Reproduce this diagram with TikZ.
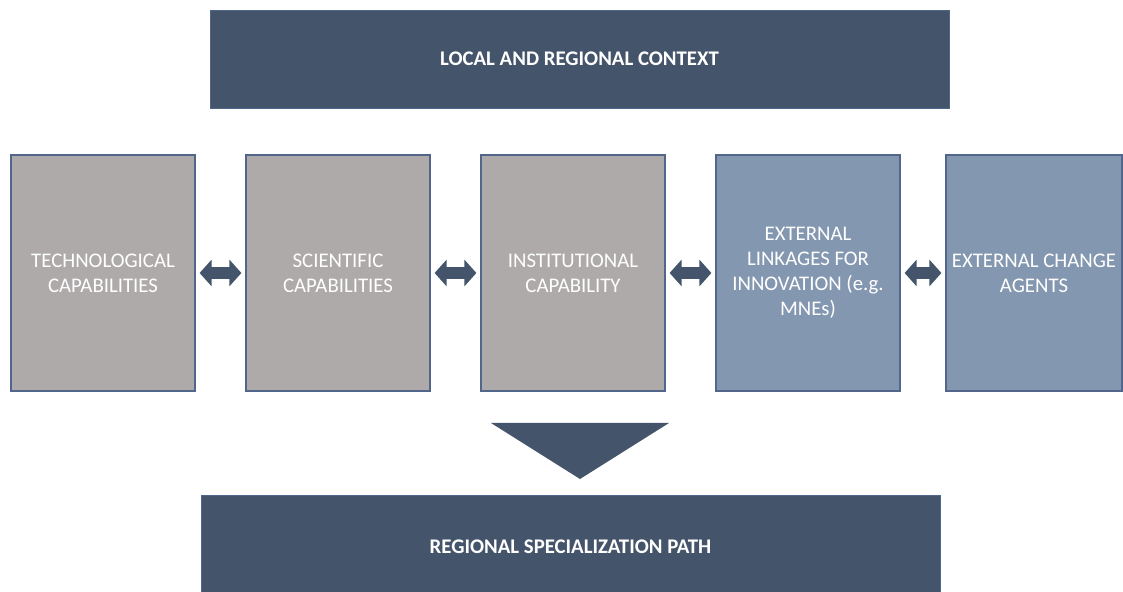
\documentclass[tikz,border=0pt]{standalone}
\usepackage{fontspec}
\setmainfont{Carlito}
\usetikzlibrary{arrows.meta, positioning}

\definecolor{slate}{HTML}{44546A}
\definecolor{capgray}{HTML}{AEAAAA}
\definecolor{extblue}{HTML}{8497B0}
\definecolor{boxedge}{HTML}{52658A}

\begin{document}
\begin{tikzpicture}
   [
      x=0.5pt, y=-0.5pt,
      % Style for the wide dark banners (context and path)
      banner/.style={rectangle, fill=slate, draw=boxedge, line width=0.4pt, minimum width=369.5pt, minimum height=49pt, font=\bfseries\fontsize{10.4}{12.5}\selectfont, text=white},
      % Style for the tall capability boxes
      cap box/.style={rectangle, draw=boxedge, line width=0.6pt, inner sep=1pt, minimum width=92pt, minimum height=118pt, align=center, font=\fontsize{10.4}{12.5}\selectfont, text=white},
      % Style for the two-headed links between boxes
      link/.style={draw=slate, line width=6pt, {Triangle[length=6pt, width=13pt]}-{Triangle[length=6pt, width=13pt]}, shorten <=2pt, shorten >=2pt},
      % Style for the funnel triangle
      funnel/.style={fill=slate}
   ]

    % Fix the page to the size of the reference
    \useasboundingbox (0,0) rectangle (1123,592);

    % =======================================================
    % Top banner: the context
    % =======================================================
    \node[banner] (context) at (579.5,59) {LOCAL AND REGIONAL CONTEXT};

    % =======================================================
    % Middle row: capabilities and external factors
    % =======================================================
    \node[cap box, fill=capgray] (tech) at (103,273) {TECHNOLOGICAL\\CAPABILITIES};
    \node[cap box, fill=capgray, right=24.9pt of tech] (sci) {SCIENTIFIC\\CAPABILITIES};
    \node[cap box, fill=capgray, right=24.9pt of sci] (inst) {INSTITUTIONAL\\CAPABILITY};
    \node[cap box, fill=extblue, right=24.9pt of inst] (linkages) {EXTERNAL\\LINKAGES FOR\\INNOVATION (e.g.\\MNEs)};
    \node[cap box, fill=extblue, minimum width=88pt, right=22.4pt of linkages] (agents) {EXTERNAL CHANGE\\AGENTS};

    % Two-headed links
    \draw[link] (tech) -- (sci);
    \draw[link] (sci) -- (inst);
    \draw[link] (inst) -- (linkages);
    \draw[link] (linkages) -- (agents);

    % =======================================================
    % Bottom banner: the outcome (runs off the bottom edge)
    % =======================================================
    \node[banner, minimum height=52pt] (path) at (570.5,547) {REGIONAL SPECIALIZATION PATH};

    % Funnel pointing down to the outcome
    \fill[funnel] (491,423) -- (669,423) -- (580,479) -- cycle;

\end{tikzpicture}
\end{document}
